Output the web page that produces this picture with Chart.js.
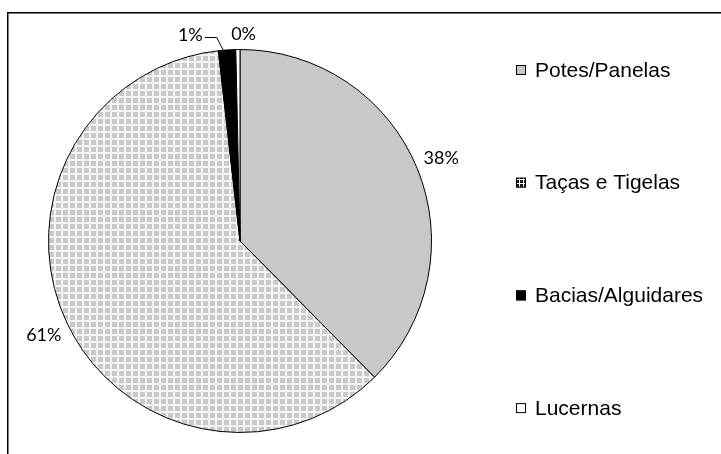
<!DOCTYPE html>
<html><head><meta charset="utf-8">
<script src="https://cdn.jsdelivr.net/npm/chart.js@4"></script>
<style>html,body{margin:0;padding:0;background:#fff;overflow:hidden}canvas{display:block}</style>
</head><body>
<canvas id="c" width="721" height="454"></canvas>
<script>
// ---- data ----
const categories = ['Potes/Panelas', 'Taças e Tigelas', 'Bacias/Alguidares', 'Lucernas'];
const shares = [37.6, 60.6, 1.45, 0.35];
const percentLabels = ['38%', '61%', '1%', '0%'];

// ---- styling ----
function makePattern(period, cell, fg, bg) {
  const c = document.createElement('canvas');
  c.width = period; c.height = period;
  const g = c.getContext('2d');
  g.fillStyle = bg; g.fillRect(0, 0, period, period);
  g.fillStyle = fg; g.fillRect(0, 0, cell, cell);
  return g.createPattern(c, 'repeat');
}
const ctx = document.getElementById('c').getContext('2d');
const gridPattern = makePattern(7, 5, '#c9c9c9', '#f3f3f3');
const legendGrid = makePattern(4, 3, '#1a1a1a', '#ffffff');
const sliceColors = ['#c8c8c8', gridPattern, '#000000', '#ffffff'];
const legendColors = ['#c8c8c8', legendGrid, '#000000', '#ffffff'];
const LABEL_FONT = '18px Lato, "DejaVu Sans", sans-serif';
const LEGEND_FONT = '21px "Liberation Sans", Arial, sans-serif';

const framePlugin = {
  id: 'frame',
  beforeDraw(chart) {
    const g = chart.ctx;
    g.save();
    g.fillStyle = '#fff';
    g.fillRect(0, 0, chart.width, chart.height);
    g.strokeStyle = '#000';
    g.lineWidth = 1.5;
    g.beginPath();
    g.moveTo(7.75, chart.height + 5);
    g.lineTo(7.75, 12.75);
    g.lineTo(chart.width + 5, 12.75);
    g.stroke();
    g.restore();
  }
};

const sliceLabelPlugin = {
  id: 'sliceLabels',
  afterDatasetsDraw(chart, args, opts) {
    const g = chart.ctx;
    const meta = chart.getDatasetMeta(0);
    g.save();
    g.font = opts.font;
    g.fillStyle = '#000';
    g.textAlign = 'center';
    g.textBaseline = 'middle';
    meta.data.forEach((arc, i) => {
      const p = arc.getProps(['x', 'y', 'startAngle', 'endAngle', 'outerRadius'], true);
      const mid = (p.startAngle + p.endAngle) / 2;
      const d = p.outerRadius + opts.offset;
      const n = opts.nudge[i] || [0, 0];
      const tx = p.x + Math.cos(mid) * d + n[0];
      const ty = p.y + Math.sin(mid) * d + n[1];
      g.fillText(percentLabels[i], tx, ty);
      if (opts.leader.includes(i)) {
        const w = g.measureText(percentLabels[i]).width;
        const ex = p.x + Math.cos(mid) * p.outerRadius;
        const ey = p.y + Math.sin(mid) * p.outerRadius;
        g.strokeStyle = '#000';
        g.lineWidth = 1;
        g.beginPath();
        g.moveTo(tx + w / 2 + 2, ty + 2.5);
        g.lineTo(tx + w / 2 + 14, ty + 2.5);
        g.lineTo(ex - 4, ey);
        g.stroke();
      }
    });
    g.restore();
  }
};

const legendPlugin = {
  id: 'sideLegend',
  afterDraw(chart, args, opts) {
    const g = chart.ctx;
    g.save();
    g.font = opts.font;
    g.textBaseline = 'middle';
    g.textAlign = 'left';
    categories.forEach((name, i) => {
      const cy = opts.top + i * opts.step;
      g.fillStyle = legendColors[i];
      g.fillRect(opts.boxX, cy - opts.box / 2, opts.box, opts.box);
      g.strokeStyle = '#000';
      g.lineWidth = 1;
      g.strokeRect(opts.boxX + 0.5, cy - opts.box / 2 + 0.5, opts.box - 1, opts.box - 1);
      g.fillStyle = '#000';
      g.fillText(name, opts.textX, cy + 1);
    });
    g.restore();
  }
};

function build() {
  new Chart(ctx, {
    type: 'pie',
    data: {
      labels: categories,
      datasets: [{
        data: shares,
        backgroundColor: sliceColors,
        borderColor: '#000',
        borderWidth: 1
      }]
    },
    options: {
      responsive: false,
      devicePixelRatio: 1,
      animation: false,
      layout: { padding: { left: 48, top: 49, right: 289, bottom: 21 } },
      plugins: {
        legend: { display: false },
        tooltip: { enabled: false },
        sliceLabels: {
          font: LABEL_FONT,
          offset: 26,
          nudge: { 2: [-35, 11], 3: [6, 11] },
          leader: [2]
        },
        sideLegend: {
          font: LEGEND_FONT,
          top: 70, step: 112.7, boxX: 516, box: 10, textX: 535
        }
      }
    },
    plugins: [framePlugin, sliceLabelPlugin, legendPlugin]
  });
}
Promise.all([
  document.fonts.load(LABEL_FONT, '0123456789%'),
  document.fonts.load(LEGEND_FONT, 'Potes/Panelas Taças')
]).then(build, build);
</script>
</body></html>
